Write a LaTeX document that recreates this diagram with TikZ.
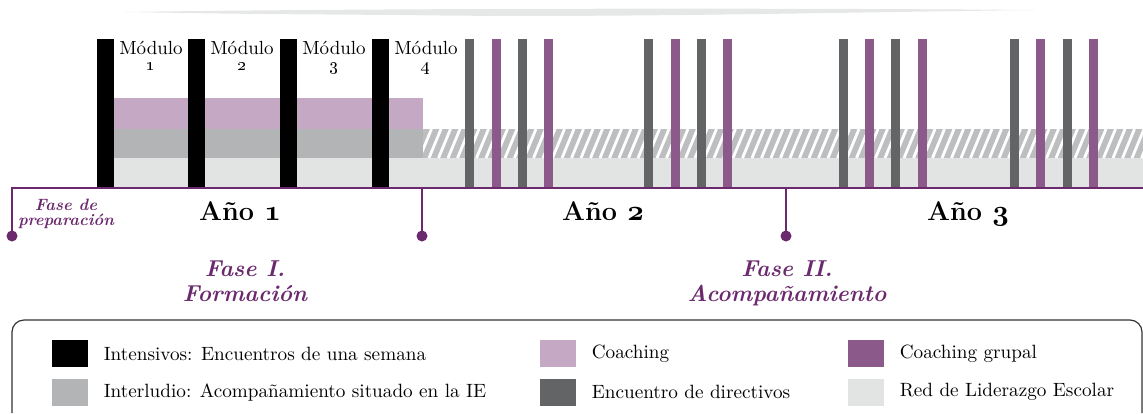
\documentclass[tikz,border=0pt]{standalone}
\usetikzlibrary{positioning}
\definecolor{intBlack}{RGB}{0,0,0}
\definecolor{coachPink}{RGB}{197,169,196}
\definecolor{interGray}{RGB}{179,180,182}
\definecolor{netGray}{RGB}{226,227,227}
\definecolor{dirGray}{RGB}{99,100,102}
\definecolor{grpPurple}{RGB}{140,90,138}
\definecolor{hatchGray}{RGB}{189,190,192}
\definecolor{phasePurple}{RGB}{107,42,110}
\definecolor{frameInk}{RGB}{51,51,51}
\definecolor{swooshGray}{RGB}{230,231,231}
\newcommand{\yearnum}[1]{{\usefont{OML}{cmm}{b}{it}#1}}
\tikzset{
  modlbl/.style={align=center, anchor=north, inner sep=0pt, font=\fontsize{9.5}{8}\selectfont},
  yearlbl/.style={anchor=base, inner sep=0pt, font=\fontsize{13.5}{14}\selectfont\bfseries},
  phaselbl/.style={align=center, anchor=north, inner sep=0pt, text=phasePurple, font=\fontsize{11.5}{12.5}\selectfont\bfseries\itshape},
  phaseline/.style={draw=phasePurple, line width=1.2pt},
  phasedot/.style={fill=phasePurple},
  legsq/.style={minimum width=18pt, minimum height=13.5pt, inner sep=0pt},
  legtxt/.style={inner sep=0pt, font=\fontsize{9.6}{11}\selectfont}
}
\begin{document}
\begin{tikzpicture}[x=0.5pt, y=-0.5pt, node distance=5.5pt]
  \useasboundingbox (0,0) rectangle (1143,413);
  % faint swoosh at the top
  \fill[swooshGray] (123,12) .. controls (400,8) and (800,8) .. (1035,10)
    .. controls (800,13) and (600,18) .. (400,15) .. controls (250,14) .. (123,12) -- cycle;
  % bands
  \fill[netGray] (97,158) rectangle (1143,187);
  \fill[interGray] (97,129) rectangle (423,158);
  \fill[coachPink] (97,98) rectangle (423,129);
  \begin{scope}
    \clip (423,129) rectangle (1143,158);
    \fill[hatchGray] (423,129) rectangle (1143,158);
    \foreach \s in {410,419.5,...,1150}
      \draw[white, line width=1.4pt] (\s,158) -- ++(12,-29);
  \end{scope}
  % bars
  \foreach \x in {97,188,280,372}
    \fill[intBlack] (\x,39) rectangle ++(17,149);
  \foreach \x in {465,518,644,697,839,891,1010,1063}
    \fill[dirGray] (\x,39) rectangle ++(9,149);
  \foreach \x in {492,544,671,723,865,918,1036,1089}
    \fill[grpPurple] (\x,39) rectangle ++(9,149);
  % module labels
  \node[modlbl] (m1) at (151,41) {Módulo\\\oldstylenums{1}};
  \node[modlbl] (m2) at (242,41) {Módulo\\\oldstylenums{2}};
  \node[modlbl] (m3) at (334,41) {Módulo\\\oldstylenums{3}};
  \node[modlbl] (m4) at (426,41) {Módulo\\\oldstylenums{4}};
  % time axis and phases
  \coordinate (axL) at (11,188);
  \coordinate (axR) at (1143,188);
  \coordinate (ax0) at (12,188);
  \coordinate (ax1) at (422,188);
  \coordinate (ax2) at (786,188);
  \coordinate (d0) at (12,236);
  \coordinate (d1) at (422,236);
  \coordinate (d2) at (786,236);
  \draw[phaseline] (axL) -- (axR);
  \draw[phaseline] (ax0) -- (d0);
  \draw[phaseline] (ax1) -- (d1);
  \draw[phaseline] (ax2) -- (d2);
  \fill[phasedot] (d0) circle (5.5);
  \fill[phasedot] (d1) circle (5.5);
  \fill[phasedot] (d2) circle (5.5);
  \node[yearlbl] (y1) at (240,220) {Año \yearnum{1}};
  \node[yearlbl] (y2) at (603,220) {Año \yearnum{2}};
  \node[yearlbl] (y3) at (968,220) {Año \yearnum{3}};
  \node[phaselbl, font=\fontsize{8.2}{7.5}\selectfont\bfseries\itshape] (fp) at (66,199) {Fase de\\preparación};
  \node[phaselbl] (f1) at (245,260) {Fase I.\\Formación};
  \node[phaselbl] (f2) at (787,260) {Fase II.\\Acompañamiento};
  % legend
  \draw[frameInk, line width=0.6pt, rounded corners=6pt] (12,413) -- (12,320) -- (1142,320) -- (1142,413);
  \node[legsq, fill=intBlack] (lgInt) at (70,353.5) {};
  \node[legsq, fill=interGray, below=of lgInt] (lgInter) {};
  \node[legsq, fill=coachPink] (lgCoach) at (558,353.5) {};
  \node[legsq, fill=dirGray, below=of lgCoach] (lgDir) {};
  \node[legsq, fill=grpPurple] (lgGrp) at (866,353.5) {};
  \node[legsq, fill=netGray, below=of lgGrp] (lgNet) {};
  \node[legtxt, right=7.5pt of lgInt] (tInt) {Intensivos: Encuentros de una semana};
  \node[legtxt, right=7.5pt of lgInter] (tInter) {Interludio: Acompañamiento situado en la IE};
  \node[legtxt, right=7.5pt of lgCoach] (tCoach) {Coaching};
  \node[legtxt, right=7.5pt of lgDir] (tDir) {Encuentro de directivos};
  \node[legtxt, right=7.5pt of lgGrp] (tGrp) {Coaching grupal};
  \node[legtxt, right=7.5pt of lgNet] (tNet) {Red de Liderazgo Escolar};
\end{tikzpicture}
\end{document}
